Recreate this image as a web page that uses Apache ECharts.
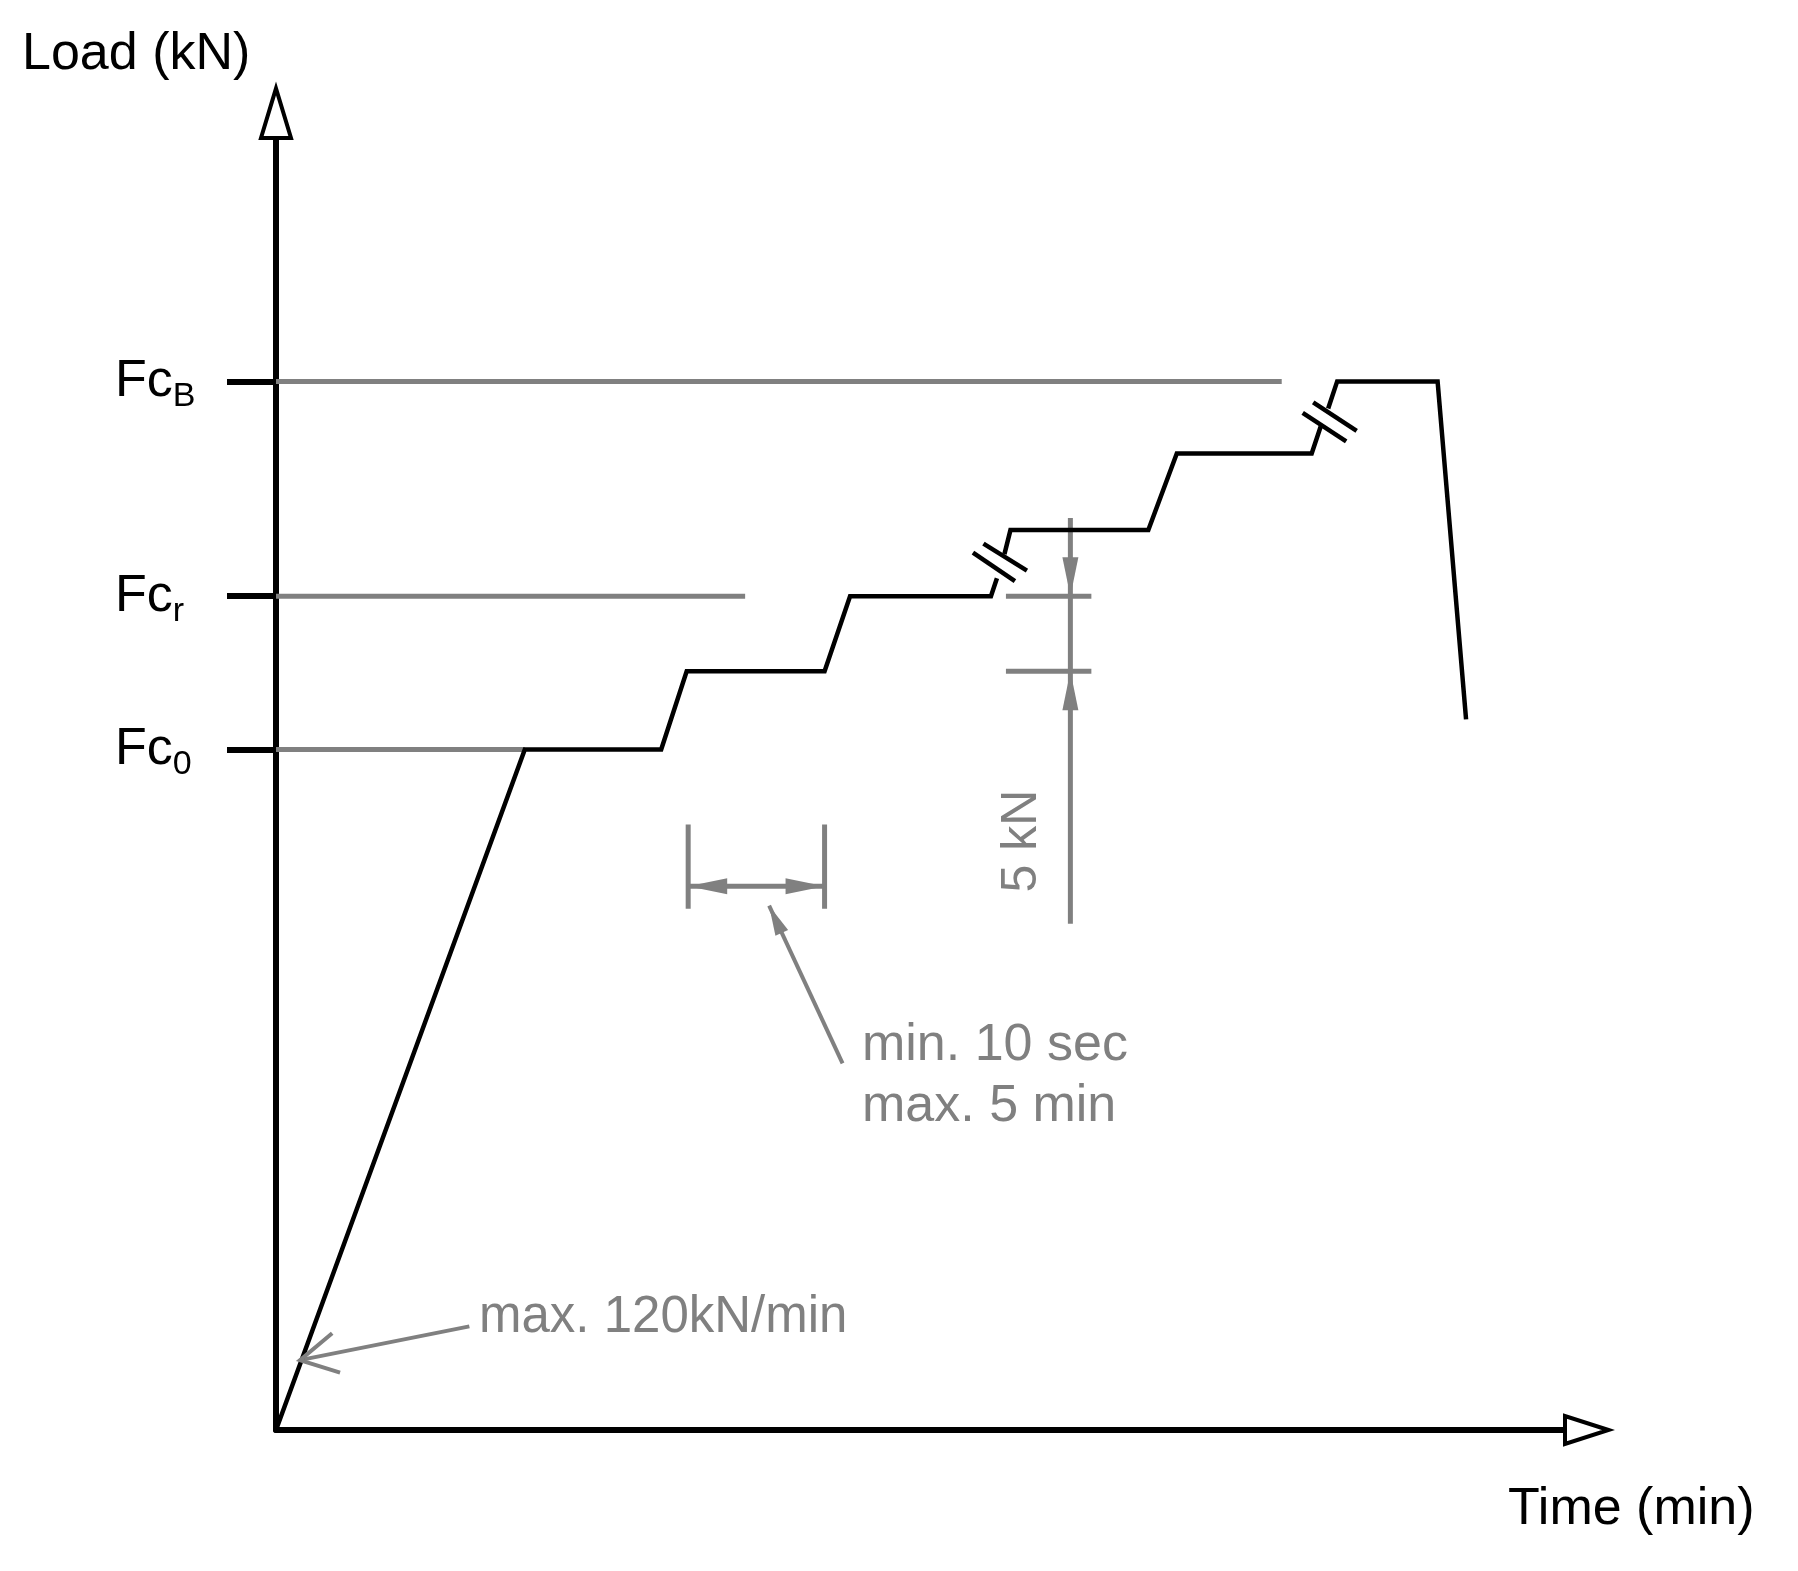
<!DOCTYPE html>
<html>
<head>
<meta charset="utf-8">
<script src="https://cdn.jsdelivr.net/npm/echarts@6/dist/echarts.min.js"></script>
<style>
  html, body { margin: 0; padding: 0; background: #fff; }
  #chart { width: 1798px; height: 1571px; }
</style>
</head>
<body>
<div id="chart"></div>
<script>
// ---- data (time in arbitrary units, load in kN-like units) ----
const curveTime = [0, 16.6, 25.7, 27.4, 36.6, 38.3, 47.7, 48.1, null, 48.6, 49.0, 58.2, 60.1, 69.1, 69.7, null, 70.2, 70.8, 77.5, 79.4];
const curveLoad = [0, 45.3, 45.3, 50.5, 50.5, 55.5, 55.5, 56.7, null, 58.3, 59.9, 59.9, 65.0, 65.0, 66.8, null, 68.0, 69.8, 69.8, 47.3];

const levelNames = ['0', 'r', 'B'];
const levelValues = [45.3, 55.5, 69.8];
const levelLineEnd = [16.6, 31.3, 67.1];

// break marks: [x1, y1, x2, y2]
const breakMarks = [
  [46.5, 58.4, 49.3, 56.5],
  [47.2, 59.0, 50.1, 57.2],
  [68.5, 67.7, 71.4, 65.8],
  [69.2, 68.4, 72.1, 66.5]
];

// dimension for hold time
const holdStart = 27.5, holdEnd = 36.6;
const holdTickLow = 34.7, holdTickHigh = 40.3, holdLineY = 36.2;
// dimension for 5 kN step
const stepDimX = 53.0, stepDimLow = 33.7, stepDimHigh = 60.7;
const stepLower = 50.5, stepUpper = 55.5;
const stepTickLeft = 48.7, stepTickRight = 54.4;

// leader lines: [x1, y1, x2, y2]
const leaderLines = [
  [37.8, 24.4, 32.9, 34.9],
  [12.9, 6.9, 1.6, 4.65]
];

// arrows: [tipX, tipY, fromX, fromY, kind]  kind 0 dim, 1 leader filled, 2 open V, 3 hollow axis arrow
const arrows = [
  [holdStart, holdLineY, holdEnd, holdLineY, 0],
  [holdEnd, holdLineY, holdStart, holdLineY, 0],
  [stepDimX, stepUpper, stepDimX, stepDimHigh, 0],
  [stepDimX, stepLower, stepDimX, stepDimLow, 0],
  [32.9, 34.9, 37.8, 24.4, 1],
  [1.6, 4.65, 12.9, 6.9, 2],
  [0, 89.3, 0, 86, 3],
  [88.9, 0, 86, 0, 3]
];

const FONT = '"Liberation Sans", Arial, Helvetica, sans-serif';
const GRAY = '#808080';

// ---- build series ----
function segmentsOf(xs, ys) {
  const segs = [];
  let cur = [];
  for (let i = 0; i < xs.length; i++) {
    if (xs[i] === null || ys[i] === null) { if (cur.length) segs.push(cur); cur = []; }
    else cur.push([xs[i], ys[i]]);
  }
  if (cur.length) segs.push(cur);
  return segs;
}

function lineSeries(data, color, width, z) {
  return {
    type: 'line', data: data, symbol: 'none', silent: true, animation: false, z: z,
    lineStyle: { color: color, width: width, cap: 'butt', join: 'miter' }
  };
}

const series = [];
levelValues.forEach((v, i) => series.push(lineSeries([[0, v], [levelLineEnd[i], v]], GRAY, 5, 2)));
segmentsOf(curveTime, curveLoad).forEach(seg => series.push(lineSeries(seg, '#000', 4.5, 3)));
breakMarks.forEach(b => series.push(lineSeries([[b[0], b[1]], [b[2], b[3]]], '#000', 4.5, 4)));
// hold time dimension
series.push(lineSeries([[holdStart, holdTickLow], [holdStart, holdTickHigh]], GRAY, 5, 2));
series.push(lineSeries([[holdEnd, holdTickLow], [holdEnd, holdTickHigh]], GRAY, 5, 2));
series.push(lineSeries([[holdStart, holdLineY], [holdEnd, holdLineY]], GRAY, 5, 2));
// step dimension
series.push(lineSeries([[stepDimX, stepDimLow], [stepDimX, stepDimHigh]], GRAY, 5, 2));
series.push(lineSeries([[stepTickLeft, stepUpper], [stepTickRight, stepUpper]], GRAY, 5, 2));
series.push(lineSeries([[stepTickLeft, stepLower], [stepTickRight, stepLower]], GRAY, 5, 2));
// leaders
leaderLines.forEach(l => series.push(lineSeries([[l[0], l[1]], [l[2], l[3]]], GRAY, 4, 2)));

series.push({
  type: 'custom', clip: false, silent: true, animation: false, z: 5,
  data: arrows,
  encode: { x: 0, y: 1 },
  renderItem: function (params, api) {
    const tip = api.coord([api.value(0), api.value(1)]);
    const from = api.coord([api.value(2), api.value(3)]);
    const kind = api.value(4);
    let dx = from[0] - tip[0], dy = from[1] - tip[1];
    const len = Math.sqrt(dx * dx + dy * dy);
    dx /= len; dy /= len;
    const nx = -dy, ny = dx;
    if (kind === 2) {
      const L = 42, a = 0.5;
      const c = Math.cos(a), s = Math.sin(a);
      const r1 = [dx * c - dy * s, dx * s + dy * c];
      const r2 = [dx * c + dy * s, -dx * s + dy * c];
      return {
        type: 'polyline',
        shape: { points: [[tip[0] + r1[0] * L, tip[1] + r1[1] * L], tip, [tip[0] + r2[0] * L, tip[1] + r2[1] * L]] },
        style: { stroke: GRAY, lineWidth: 4, fill: null }
      };
    }
    let L, W, style;
    if (kind === 0) { L = 39; W = 8; style = { fill: GRAY }; }
    else if (kind === 1) { L = 30; W = 7; style = { fill: GRAY }; }
    else { L = len; W = Math.abs(dy) > 0.5 ? 15 : 14; style = { fill: '#fff', stroke: '#000', lineWidth: 4, lineJoin: 'miter' }; }
    const bx = tip[0] + dx * L, by = tip[1] + dy * L;
    return {
      type: 'polygon',
      shape: { points: [tip, [bx + nx * W, by + ny * W], [bx - nx * W, by - ny * W]] },
      style: style
    };
  }
});

const chart = echarts.init(document.getElementById('chart'), null, { renderer: 'canvas' });
chart.setOption({
  backgroundColor: '#fff',
  animation: false,
  grid: { left: 276, right: 233, top: 138, bottom: 141, containLabel: false },
  xAxis: {
    type: 'value', min: 0, max: 86,
    axisLine: { show: true, lineStyle: { color: '#000', width: 6 } },
    axisTick: { show: false }, axisLabel: { show: false }, splitLine: { show: false }
  },
  yAxis: {
    type: 'value', min: 0, max: 86,
    axisLine: { show: true, lineStyle: { color: '#000', width: 6 } },
    axisTick: { show: true, inside: false, length: 49, customValues: levelValues, lineStyle: { color: '#000', width: 6 } },
    axisLabel: {
      show: true, customValues: levelValues, align: 'left', margin: 161,
      formatter: function (v) {
        let idx = 0, best = Infinity;
        levelValues.forEach((lv, i) => { if (Math.abs(lv - v) < best) { best = Math.abs(lv - v); idx = i; } });
        return '{a|Fc}{s|' + levelNames[idx] + '}';
      },
      rich: {
        a: { fontSize: 52, lineHeight: 52, color: '#000', fontFamily: FONT },
        s: { fontSize: 34, lineHeight: 34, padding: [30, 0, 0, 0], color: '#000', fontFamily: FONT }
      }
    },
    splitLine: { show: false }
  },
  graphic: [
    { type: 'text', x: 22, y: 55, silent: true, style: { text: 'Load (kN)', fontSize: 52, fontFamily: FONT, fill: '#000', align: 'left', verticalAlign: 'middle' } },
    { type: 'text', x: 1508, y: 1510, silent: true, style: { text: 'Time (min)', fontSize: 52, fontFamily: FONT, fill: '#000', align: 'left', verticalAlign: 'middle' } },
    { type: 'text', x: 862, y: 1046, silent: true, style: { text: 'min. 10 sec', fontSize: 52, fontFamily: FONT, fill: GRAY, align: 'left', verticalAlign: 'middle' } },
    { type: 'text', x: 862, y: 1107, silent: true, style: { text: 'max. 5 min', fontSize: 52, fontFamily: FONT, fill: GRAY, align: 'left', verticalAlign: 'middle' } },
    { type: 'text', x: 479, y: 1318, silent: true, style: { text: 'max. 120kN/min', fontSize: 51, fontFamily: FONT, fill: GRAY, align: 'left', verticalAlign: 'middle' } },
    { type: 'text', x: 1022, y: 841, rotation: Math.PI / 2, silent: true, style: { text: '5 kN', fontSize: 50, fontFamily: FONT, fill: GRAY, align: 'center', verticalAlign: 'middle' } }
  ],
  series: series
});
</script>
</body>
</html>
